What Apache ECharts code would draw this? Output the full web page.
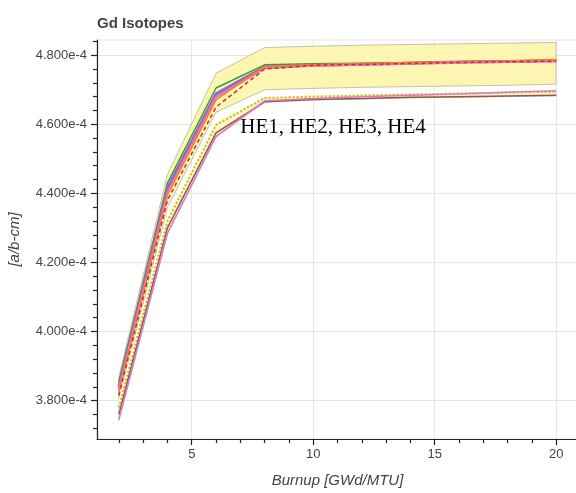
<!DOCTYPE html>
<html>
<head>
<meta charset="utf-8">
<script src="https://cdn.jsdelivr.net/npm/echarts@6/dist/echarts.min.js"></script>
<style>
  html, body { margin: 0; padding: 0; background: #fff; }
  #chart { width: 576px; height: 493px; }
</style>
</head>
<body>
<div id="chart"></div>
<script>
// Burnup steps [GWd/MTU]
const burnup = [2, 4, 6, 8, 10, 12, 14, 16, 18, 20];

// Upper uncertainty envelope [a/b-cm]
const upperBandTop = [3.870e-4, 4.455e-4, 4.748e-4, 4.822e-4, 4.826e-4, 4.829e-4, 4.831e-4, 4.833e-4, 4.835e-4, 4.837e-4];
const upperBandBot = [3.800e-4, 4.360e-4, 4.635e-4, 4.700e-4, 4.704e-4, 4.707e-4, 4.709e-4, 4.711e-4, 4.713e-4, 4.716e-4];

// Lower envelope
const lowerBandTop = [3.790e-4, 4.335e-4, 4.610e-4, 4.682e-4, 4.687e-4, 4.690e-4, 4.692e-4, 4.695e-4, 4.697e-4, 4.700e-4];
const lowerBandBot = [3.742e-4, 4.282e-4, 4.562e-4, 4.664e-4, 4.670e-4, 4.673e-4, 4.676e-4, 4.678e-4, 4.680e-4, 4.682e-4];

// Cases inside the upper envelope
const caseGreen  = [3.855e-4, 4.430e-4, 4.705e-4, 4.772e-4, 4.775e-4, 4.777e-4, 4.779e-4, 4.781e-4, 4.783e-4, 4.786e-4];
const casePurple = [3.840e-4, 4.415e-4, 4.688e-4, 4.766e-4, 4.771e-4, 4.774e-4, 4.777e-4, 4.780e-4, 4.782e-4, 4.784e-4];
const casePink   = [3.830e-4, 4.400e-4, 4.678e-4, 4.763e-4, 4.770e-4, 4.773e-4, 4.776e-4, 4.779e-4, 4.781e-4, 4.783e-4];
const caseOrange = [3.825e-4, 4.395e-4, 4.670e-4, 4.768e-4, 4.773e-4, 4.776e-4, 4.779e-4, 4.781e-4, 4.784e-4, 4.788e-4];
const caseRed    = [3.815e-4, 4.380e-4, 4.650e-4, 4.760e-4, 4.771e-4, 4.773e-4, 4.776e-4, 4.779e-4, 4.781e-4, 4.783e-4];

// Cases inside the lower envelope
const caseWhite  = [3.790e-4, 4.335e-4, 4.610e-4, 4.682e-4, 4.687e-4, 4.690e-4, 4.692e-4, 4.695e-4, 4.697e-4, 4.700e-4];
const caseOlive  = [3.780e-4, 4.320e-4, 4.598e-4, 4.676e-4, 4.680e-4, 4.683e-4, 4.686e-4, 4.689e-4, 4.692e-4, 4.694e-4];
const caseBrown  = [3.760e-4, 4.300e-4, 4.575e-4, 4.665e-4, 4.672e-4, 4.675e-4, 4.678e-4, 4.680e-4, 4.682e-4, 4.684e-4];
const caseLowPink= [3.745e-4, 4.285e-4, 4.565e-4, 4.668e-4, 4.675e-4, 4.680e-4, 4.684e-4, 4.688e-4, 4.693e-4, 4.697e-4];

// Axis ticks
const xMajorTicks = [5, 10, 15, 20];
const xMinorTicks = [2, 3, 4, 6, 7, 8, 9, 11, 12, 13, 14, 16, 17, 18, 19];
const yMajorTicks = [3.8e-4, 4.0e-4, 4.2e-4, 4.4e-4, 4.6e-4, 4.8e-4];
const yMinorTicks = [3.72e-4, 3.76e-4, 3.84e-4, 3.88e-4, 3.92e-4, 3.96e-4, 4.04e-4, 4.08e-4, 4.12e-4, 4.16e-4,
                     4.24e-4, 4.28e-4, 4.32e-4, 4.36e-4, 4.44e-4, 4.48e-4, 4.52e-4, 4.56e-4, 4.64e-4, 4.68e-4,
                     4.72e-4, 4.76e-4, 4.84e-4];

// Annotation
const annotationText = 'HE1, HE2, HE3, HE4';
const annotationAt = [7, 4.56e-4];

const X_MIN = 1.1, X_MAX = 20.9;
const Y_MIN = 3.689e-4, Y_MAX = 4.844e-4;

const chart = echarts.init(document.getElementById('chart'), null, { renderer: 'canvas' });

function pairs(ys) { return burnup.map((x, i) => [x, ys[i]]); }

function bandSeries(top, bot, fill, stroke) {
  return {
    type: 'custom',
    silent: true,
    data: burnup.map((x, i) => [x, top[i], bot[i]]),
    encode: { x: 0, y: [1, 2] },
    renderItem: function (params, api) {
      if (params.dataIndex !== 0) return null;
      const upper = burnup.map((x, i) => api.coord([x, top[i]]));
      const lower = burnup.map((x, i) => api.coord([x, bot[i]])).reverse();
      return {
        type: 'polygon',
        shape: { points: upper.concat(lower) },
        style: { fill: fill, stroke: stroke, lineWidth: 1 }
      };
    },
    z: 1
  };
}

function lineSeries(name, ys, color, width, type) {
  return {
    name: name,
    type: 'line',
    data: pairs(ys),
    showSymbol: false,
    symbol: 'none',
    lineStyle: { color: color, width: width, type: type || 'solid' },
    z: 3
  };
}

const axisFont = 'Liberation Sans';

chart.setOption({
  animation: false,
  backgroundColor: '#ffffff',
  title: {
    text: 'Gd Isotopes',
    left: 97,
    top: 16,
    padding: 0,
    textStyle: { fontSize: 15, fontWeight: 'bold', color: '#444444', fontFamily: axisFont }
  },
  grid: {
    left: 97, top: 40, width: 481, height: 399,
    containLabel: false,
    outerBoundsMode: 'none',
    show: true,
    borderColor: '#e5e5e5',
    borderWidth: 1,
    backgroundColor: 'transparent'
  },
  xAxis: [
    {
      type: 'value', min: X_MIN, max: X_MAX,
      name: 'Burnup [GWd/MTU]', nameLocation: 'middle', nameGap: 34,
      nameTextStyle: { fontSize: 15, fontStyle: 'italic', color: '#444444', fontFamily: axisFont },
      axisLine: { show: true, onZero: false, lineStyle: { color: '#222222', width: 1.2 } },
      axisTick: { show: true, length: 6, customValues: xMajorTicks, lineStyle: { color: '#222222', width: 1.2 } },
      axisLabel: { customValues: xMajorTicks, margin: 9, fontSize: 13, color: '#444444', fontFamily: axisFont },
      splitLine: { show: true, lineStyle: { color: '#e5e5e5', width: 1 } },
      minorTick: { show: false }
    },
    {
      type: 'value', min: X_MIN, max: X_MAX, position: 'bottom', offset: 0,
      axisLine: { show: false, onZero: false },
      axisTick: { show: true, length: 4, customValues: xMinorTicks, lineStyle: { color: '#222222', width: 1.2 } },
      axisLabel: { show: false },
      splitLine: { show: false }
    }
  ],
  yAxis: [
    {
      type: 'value', min: Y_MIN, max: Y_MAX,
      name: '[a/b-cm]', nameLocation: 'middle', nameGap: 75,
      nameTextStyle: { fontSize: 15, fontStyle: 'italic', color: '#444444', fontFamily: axisFont },
      axisLine: { show: true, onZero: false, lineStyle: { color: '#222222', width: 1.2 } },
      axisTick: { show: true, length: 6, customValues: yMajorTicks, lineStyle: { color: '#222222', width: 1.2 } },
      axisLabel: {
        customValues: yMajorTicks, margin: 10, fontSize: 13, color: '#444444', fontFamily: axisFont,
        formatter: v => Number(v).toExponential(3)
      },
      splitLine: { show: true, lineStyle: { color: '#e5e5e5', width: 1 } }
    },
    {
      type: 'value', min: Y_MIN, max: Y_MAX, position: 'left', offset: 0,
      axisLine: { show: false, onZero: false },
      axisTick: { show: true, length: 4, customValues: yMinorTicks, lineStyle: { color: '#222222', width: 1.2 } },
      axisLabel: { show: false },
      splitLine: { show: false }
    }
  ],
  series: [
    bandSeries(upperBandTop, upperBandBot, '#fdf5b2', '#c4c4a4'),
    bandSeries(lowerBandTop, lowerBandBot, '#fdf7c6', '#d0d0c0'),
    lineSeries('green', caseGreen, '#2ca02c', 1.5),
    lineSeries('purple', casePurple, '#9467bd', 3),
    lineSeries('pink', casePink, '#e377c2', 2.5),
    lineSeries('orange', caseOrange, '#ff7f0e', 1.2),
    lineSeries('red', caseRed, '#d62728', 1.5, [4, 3]),
    lineSeries('white', caseWhite, '#ffffff', 2),
    lineSeries('olive', caseOlive, '#bcbd22', 2, [2, 2]),
    lineSeries('brown', caseBrown, '#8c564b', 1.5),
    lineSeries('lowpink', caseLowPink, '#e377c2', 1.5)
  ]
});

// Case label placed at a data position
const p = chart.convertToPixel({ xAxisIndex: 0, yAxisIndex: 0 }, annotationAt);
chart.setOption({
  graphic: [{
    type: 'text',
    x: p[0], y: p[1],
    z: 100,
    style: {
      text: annotationText,
      font: '21px "Liberation Serif"',
      fill: '#000000',
      align: 'left', verticalAlign: 'bottom',
      textAlign: 'left', textVerticalAlign: 'bottom'
    }
  }]
});
</script>
</body>
</html>
